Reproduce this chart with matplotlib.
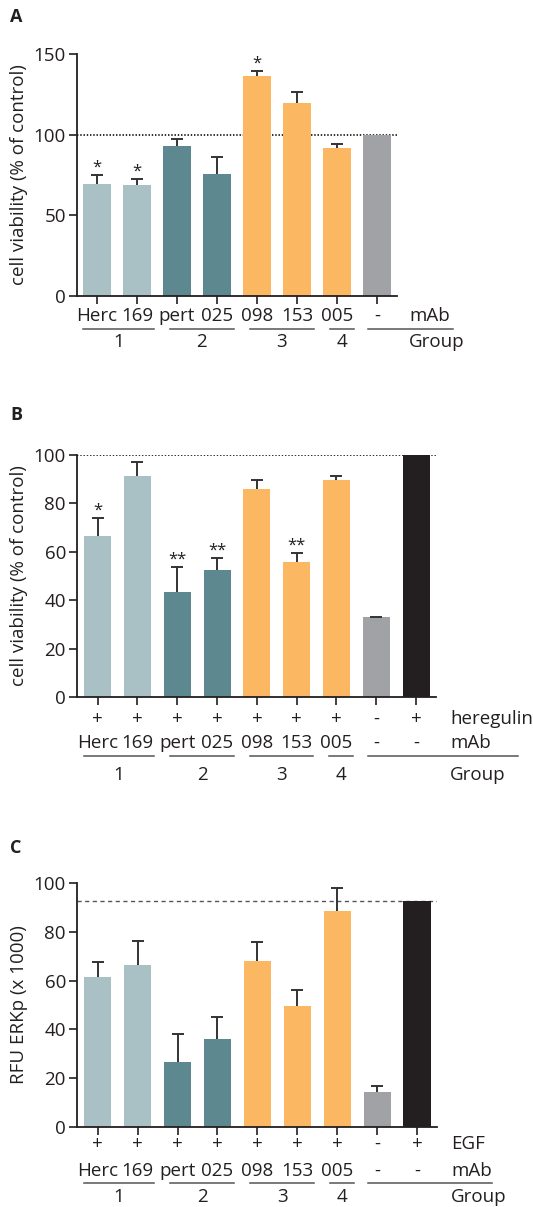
import numpy as np
import matplotlib
matplotlib.use("Agg")
import matplotlib.pyplot as plt
from matplotlib.transforms import blended_transform_factory
from matplotlib.lines import Line2D

plt.rcParams['font.family'] = ['Open Sans', 'DejaVu Sans']
plt.rcParams['text.color'] = '#231f20'

# ---------------- data ----------------
mab_A = ["Herc", "169", "pert", "025", "098", "153", "005", "-"]
viability_A = [69.4, 68.6, 93.0, 75.6, 136.4, 119.4, 91.7, 100.0]
sem_A = [5.8, 3.9, 4.5, 10.8, 3.3, 7.3, 2.5, 0.0]
stars_A = ["*", "*", "", "", "*", "", "", ""]
group_A = ["1", "1", "2", "2", "3", "3", "4", "ctrl"]

mab_B = ["Herc", "169", "pert", "025", "098", "153", "005", "-", "-"]
heregulin_B = ["+", "+", "+", "+", "+", "+", "+", "-", "+"]
viability_B = [66.5, 91.3, 43.3, 52.4, 85.9, 55.7, 89.7, 33.0, 100.0]
sem_B = [7.3, 5.9, 10.5, 5.1, 3.8, 4.0, 1.5, 0.2, 0.0]
stars_B = ["*", "", "**", "**", "", "**", "", "", ""]
group_B = ["1", "1", "2", "2", "3", "3", "4", "ctrl", "ctrl+"]

mab_C = ["Herc", "169", "pert", "025", "098", "153", "005", "-", "-"]
egf_C = ["+", "+", "+", "+", "+", "+", "+", "-", "+"]
erk_C = [61.5, 66.4, 26.6, 36.2, 68.1, 49.7, 88.5, 14.5, 92.8]
sem_C = [6.2, 9.9, 11.7, 9.0, 7.9, 6.6, 9.6, 2.1, 0.0]
group_C = ["1", "1", "2", "2", "3", "3", "4", "ctrl", "ctrl+"]

group_names = ["1", "2", "3", "4"]

# ---------------- style ----------------
palette = {"1": "#a9c0c5", "2": "#5d8890", "3": "#fbb761", "4": "#fbb761",
           "ctrl": "#a1a2a5", "ctrl+": "#231f20"}
INK = "#231f20"
FS = 13.5
W, H = 533, 1207

fig = plt.figure(figsize=(W / 100, H / 100), dpi=100)


def add_axes_px(left, right, top, bottom):
    return fig.add_axes([left / W, 1 - bottom / H, (right - left) / W, (bottom - top) / H])


def style_axes(ax, ymax, yticks, ylabel):
    for s in ("top", "right"):
        ax.spines[s].set_visible(False)
    for s in ("left", "bottom"):
        ax.spines[s].set_linewidth(1.3)
        ax.spines[s].set_color(INK)
    ax.set_ylim(0, ymax)
    ax.set_yticks(yticks)
    ax.tick_params(axis="both", direction="out", length=6, width=1.2, color=INK,
                   labelsize=FS, labelcolor=INK, pad=2)
    ax.set_xticklabels([])
    ax.set_ylabel(ylabel, fontsize=FS, color=INK, labelpad=4)


def draw_bars(ax, values, sems, groups, stars=None):
    x = np.arange(len(values))
    cols = [palette[g] for g in groups]
    ax.bar(x, values, width=0.68, color=cols, zorder=2)
    sems = np.asarray(sems)
    vals = np.asarray(values)
    m = sems > 0
    _, caps, _ = ax.errorbar(x[m], vals[m], yerr=[np.zeros(m.sum()), sems[m]],
                             fmt="none", ecolor="#333333", elinewidth=1.4,
                             capsize=4.5, capthick=1.4, zorder=3)
    # upper-only error bars: hide the cap that sits on the bar top
    caps[0].set_visible(False)
    ax.set_xticks(x)
    ax.set_xlim(-0.52, len(values) - 0.5)
    if stars:
        for xi, v, s, st in zip(x, vals, sems, stars):
            if st:
                ax.annotate(st, (xi, v + s), xytext=(0, -0.5), textcoords="offset points",
                            ha="center", va="bottom", fontsize=12, color=INK)


def px_to_axes(ax, off_px):
    bb = ax.get_position()
    return -off_px / (bb.height * H)


def row_text(ax, labels, off_px, name, name_x):
    tr = blended_transform_factory(ax.transData, ax.transAxes)
    y = px_to_axes(ax, off_px)
    for i, lab in enumerate(labels):
        ax.text(i, y, lab, transform=tr, ha="center", va="center", fontsize=FS,
                color=INK, clip_on=False)
    ax.text(name_x, y, name, transform=tr, ha="left", va="center", fontsize=FS,
            color=INK, clip_on=False)


def group_rows(ax, groups, line_off, label_off, ctrl_end, name_x):
    tr = blended_transform_factory(ax.transData, ax.transAxes)
    yl = px_to_axes(ax, line_off)
    yt = px_to_axes(ax, label_off)
    for g in group_names:
        idx = [i for i, gg in enumerate(groups) if gg == g]
        x0 = idx[0] - (0.35 if idx[0] == 0 else 0.18)
        x1 = idx[-1] + 0.42
        ax.add_line(Line2D([x0, x1], [yl, yl], transform=tr, color="#555555",
                           lw=1.1, clip_on=False))
        ax.text((x0 + x1) / 2, yt, g, transform=tr, ha="center", va="center",
                fontsize=FS, color=INK, clip_on=False)
    first_ctrl = [i for i, gg in enumerate(groups) if gg.startswith("ctrl")][0]
    ax.add_line(Line2D([first_ctrl - 0.22, ctrl_end], [yl, yl], transform=tr,
                       color="#555555", lw=1.1, clip_on=False))
    ax.text(name_x, yt, "Group", transform=tr, ha="left", va="center", fontsize=FS,
            color=INK, clip_on=False)


# ---------------- panel A ----------------
axA = add_axes_px(77, 397, 54, 296)
style_axes(axA, 150, [0, 50, 100, 150], "cell viability (% of control)")
axA.axhline(viability_A[-1], color=INK, lw=1.3, ls=(0, (0.8, 1.0)), zorder=1)
draw_bars(axA, viability_A, sem_A, group_A, stars_A)
axA.set_xlim(-0.5, 7.5)
row_text(axA, mab_A, 20, "mAb", 7.8)
group_rows(axA, group_A, 32.7, 45.7, 8.9, 7.8)
fig.text(10 / W, 1 - 17 / H, "A", fontsize=13, fontweight="bold", va="center", ha="left")

# ---------------- panel B ----------------
axB = add_axes_px(77, 436, 455, 697)
style_axes(axB, 100, [0, 20, 40, 60, 80, 100], "cell viability (% of control)")
axB.axhline(viability_B[-1], color=INK, lw=1.3, ls=(0, (0.8, 1.0)), zorder=1)
draw_bars(axB, viability_B, sem_B, group_B, stars_B)
row_text(axB, heregulin_B, 22, "heregulin", 8.85)
row_text(axB, mab_B, 45.7, "mAb", 8.85)
group_rows(axB, group_B, 58.7, 78, 10.55, 8.85)
fig.text(10 / W, 1 - 415 / H, "B", fontsize=13, fontweight="bold", va="center", ha="left")

# ---------------- panel C ----------------
axC = add_axes_px(77, 437, 883, 1127)
style_axes(axC, 100, [0, 20, 40, 60, 80, 100], "RFU ERKp (x 1000)")
axC.axhline(erk_C[-1], color="#555555", lw=1.0, ls=(0, (3, 2.5)), zorder=1)
draw_bars(axC, erk_C, sem_C, group_C)
row_text(axC, egf_C, 17, "EGF", 8.85)
row_text(axC, mab_C, 43.7, "mAb", 8.85)
group_rows(axC, group_C, 55.7, 70, 9.87, 8.85)
fig.text(10 / W, 1 - 848 / H, "C", fontsize=13, fontweight="bold", va="center", ha="left")

fig.savefig("out.png", dpi=100)
